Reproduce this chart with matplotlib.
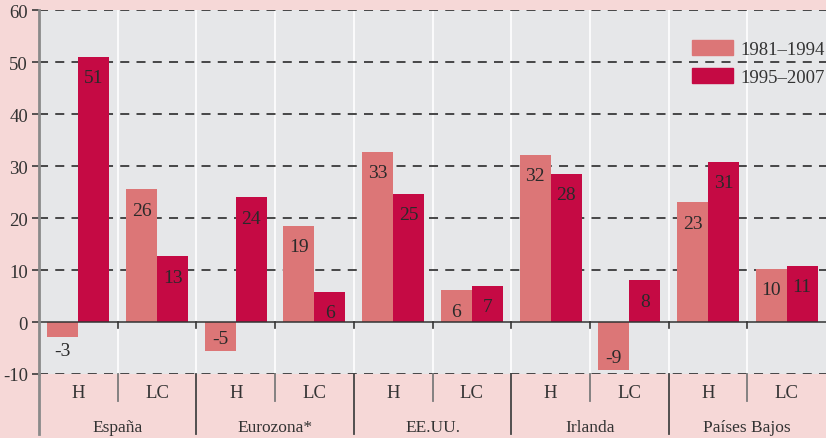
import matplotlib
matplotlib.use("Agg")
import matplotlib.pyplot as plt
from matplotlib.patches import Patch
import numpy as np

plt.rcParams['font.family'] = ['Liberation Serif', 'DejaVu Serif']

countries = ["España", "Eurozona*", "EE.UU.", "Irlanda", "Países Bajos"]
subcats = ["H", "LC"]
series_names = ["1981–1994", "1995–2007"]
# bar heights
vals_8194 = [-2.9, 25.5, -5.6, 18.5, 32.7, 6.1, 32.2, -9.3, 23.0, 10.2]
vals_9507 = [51.0, 12.6, 24.0, 5.8, 24.6, 6.9, 28.5, 8.0, 30.8, 10.8]
# printed labels
labels_8194 = ["-3", "26", "-5", "19", "33", "6", "32", "-9", "23", "10"]
labels_9507 = ["51", "13", "24", "6", "25", "7", "28", "8", "31", "11"]
yticks = [-10, 0, 10, 20, 30, 40, 50, 60]

c_light = "#DC7677"
c_dark = "#C50A44"
bg_fig = "#F6D8D7"
bg_ax = "#E6E7E9"

fig = plt.figure(figsize=(8.26, 4.39), dpi=100, facecolor=bg_fig)
ax = fig.add_axes([39/826, (439-375)/439, 1 - 39/826, (375-11)/439])
ax.set_facecolor(bg_ax)

n = len(vals_8194)
x = np.arange(n)
w = 0.394
ax.set_xlim(-0.5, n - 0.5)
ax.set_ylim(-10, 60)

# white separators
for b in np.arange(0.5, n - 0.5, 1):
    ax.axvline(b, color="white", lw=1.2, zorder=1)
# dashed grid
for yv in yticks:
    if yv != 0:
        ax.axhline(yv, color="#3a3a3a", lw=1.3, ls=(0, (5, 4)), zorder=1.5)

b1 = ax.bar(x - w/2, vals_8194, width=w, color=c_light, zorder=2)
b2 = ax.bar(x + w/2, vals_9507, width=w, color=c_dark, zorder=2)
ax.axhline(0, color="#333333", lw=1.1, zorder=3)

def put_labels(bars, vals, labs):
    for rect, v, s in zip(bars, vals, labs):
        cx = rect.get_x() + rect.get_width()/2
        if v >= 0:
            dy = -15
        elif v > -4:
            dy = -10
        else:
            dy = 9
        ax.annotate(s, (cx, v), xytext=(0, dy), textcoords="offset points",
                    ha="center", va="center", fontsize=14, color="#2a2a2a", zorder=4)

put_labels(b1, vals_8194, labels_8194)
put_labels(b2, vals_9507, labels_9507)

# spines
for s in ["top", "right", "bottom"]:
    ax.spines[s].set_visible(False)
ax.spines["left"].set_color("#8a8a8a")
ax.spines["left"].set_linewidth(2)
ax.spines["left"].set_zorder(5)

ax.set_yticks(yticks)
ax.set_yticklabels([str(t) for t in yticks], fontsize=13.5, color="#333333")
ax.tick_params(axis="y", length=5, width=1.2, color="#3a3a3a", pad=3)
ax.set_xticks([])

trans = ax.get_xaxis_transform()
# small ticks at zero line
for b in np.arange(0.5, n - 0.5, 1):
    ax.plot([b, b], [0, -1.2], color="#333333", lw=1.2, zorder=3, clip_on=False)

def ypx(p):
    return (375 - p) / (375 - 11)

for i, b in enumerate(np.arange(0.5, n - 0.5, 1)):
    if i % 2 == 0:
        ax.plot([b, b], [0, ypx(402)], transform=trans, color="#7a7a7a", lw=1.3, clip_on=False)
    else:
        ax.plot([b, b], [0, ypx(435)], transform=trans, color="#444444", lw=1.3, clip_on=False)
ax.plot([-0.5, -0.5], [0, ypx(435)], transform=trans, color="#8a8a8a", lw=2, clip_on=False)

for i in range(n):
    ax.text(x[i], ypx(394), subcats[i % 2], transform=trans, ha="center", va="center",
            fontsize=13.5, color="#333333")
for j, c in enumerate(countries):
    ax.text(2*j + 0.5, ypx(428), c, transform=trans, ha="center", va="center",
            fontsize=12.5, color="#333333")

handles = [Patch(color=c_light), Patch(color=c_dark)]
leg = ax.legend(handles, series_names, loc="upper right", bbox_to_anchor=(0.999, 0.918),
                frameon=False, fontsize=13.5, handlelength=2.2, handleheight=0.85,
                handletextpad=0.4, labelspacing=0.55, borderaxespad=0, borderpad=0)
for t in leg.get_texts():
    t.set_color("#333333")

fig.savefig("out.png", dpi=100, facecolor=bg_fig)
